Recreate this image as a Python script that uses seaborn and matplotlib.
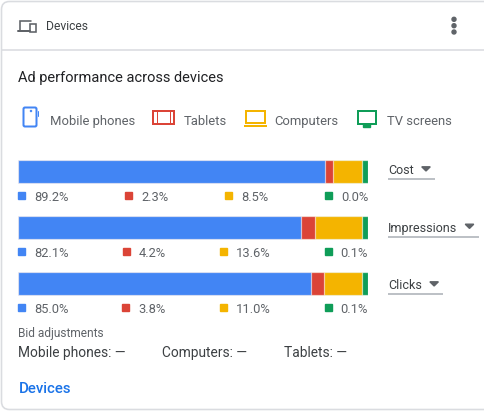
import numpy as np
import pandas as pd
import matplotlib
matplotlib.use("Agg")
import matplotlib.pyplot as plt
import matplotlib.patches as mpatches
import seaborn as sns

devices = ["Mobile phones", "Tablets", "Computers", "TV screens"]
device_colors = ["#4285f4", "#db4437", "#f4b400", "#0f9d58"]
metrics = ["Cost", "Impressions", "Clicks"]
mobile_pct = [89.2, 82.1, 85.0]
tablet_pct = [2.3, 4.2, 3.8]
computer_pct = [8.5, 13.6, 11.0]
tv_pct = [0.0, 0.1, 0.1]
bid_labels = ["Mobile phones: \u2014", "Computers: \u2014", "Tablets: \u2014"]

W, H = 484, 412
sns.set_theme(style="white")
plt.rcParams["font.family"] = ["Roboto", "DejaVu Sans"]

fig = plt.figure(figsize=(W / 100, H / 100), dpi=100)
fig.patch.set_facecolor("white")
renderer = fig.canvas.get_renderer()


def px(v):
    # pixels -> points
    return v * 0.72


def text_w(s, size, weight="normal"):
    t = fig.text(0, 0, s, fontsize=size, fontweight=weight)
    w = t.get_window_extent(renderer).width
    t.remove()
    return w


# ---- stacked bars (seaborn) ----
shares = np.array([mobile_pct, tablet_pct, computer_pct, tv_pct], dtype=float)
# tiny segments still get a visible sliver, like the original widget
shown = np.maximum(shares, 1.8)
shown = shown / shown.sum(axis=0) * 100
cum = np.cumsum(shown, axis=0)

bar_left, bar_right = 18, 368
bar_top_area, bar_bot_area = 143.5, 311.5
ax_bar = fig.add_axes([bar_left / W, 1 - bar_bot_area / H,
                       (bar_right - bar_left) / W, (bar_bot_area - bar_top_area) / H])
for i in reversed(range(len(devices))):
    df = pd.DataFrame({"metric": metrics, "value": cum[i]})
    sns.barplot(data=df, x="value", y="metric", color=device_colors[i], saturation=1,
                width=0.41, errorbar=None, ax=ax_bar,
                edgecolor=(1, 1, 1, 0.6), linewidth=px(1.2))
ax_bar.set_xlim(0, 100)
ax_bar.set_ylim(2.5, -0.5)
ax_bar.axis("off")
ax_bar.patch.set_alpha(0)

# ---- overlay in pixel coordinates ----
ax = fig.add_axes([0, 0, 1, 1])
ax.set_xlim(0, W)
ax.set_ylim(H, 0)
ax.axis("off")
ax.patch.set_alpha(0)

grey_line = "#dadce0"
dark = "#3c4043"
mid = "#5f6368"

# card frame + header divider
ax.add_patch(mpatches.FancyBboxPatch((1.5, 1.5), 520, 408, boxstyle="round,pad=0,rounding_size=8",
                                     fill=False, edgecolor=grey_line, linewidth=px(1.6)))
ax.plot([2, W], [50, 50], color=grey_line, lw=px(1.6), solid_capstyle="butt")

# header icon (laptop + phone)
ax.plot([20, 20, 31], [31, 21, 21], color=mid, lw=px(1.6), solid_joinstyle="miter")
ax.plot([18, 29.5], [31.2, 31.2], color=mid, lw=px(2))
ax.add_patch(mpatches.Rectangle((30, 24), 5.5, 7.5, fill=False, edgecolor=mid, lw=px(1.6)))
ax.text(46, 30, "Devices", fontsize=8.7, color=dark, va="baseline")

# kebab menu
for yy in [19.3, 25.7, 32]:
    ax.add_patch(mpatches.Circle((454, yy), 2, color=mid))

ax.text(18, 82, "Ad performance across devices", fontsize=10.5, color="#202124", va="baseline")

# legend with icons
def draw_icon(kind, x0, color):
    lw = px(2)
    if kind == 0:
        ax.add_patch(mpatches.FancyBboxPatch((x0 + 5.5, 107.5), 13, 19,
                                             boxstyle="round,pad=0,rounding_size=1.5",
                                             fill=False, edgecolor=color, lw=lw))
        ax.add_patch(mpatches.Rectangle((x0 + 11.5, 109.5), 1.5, 1.5, color=color))
        ax.plot([x0 + 19.5, x0 + 19.5], [111, 116], color=color, lw=px(1))
    elif kind == 1:
        ax.add_patch(mpatches.Rectangle((x0 + 2, 110.5), 21, 13.5, fill=False, edgecolor=color, lw=lw))
        ax.plot([x0 + 6, x0 + 6], [110.5, 124], color=color, lw=px(1))
        ax.plot([x0 + 19, x0 + 19], [110.5, 124], color=color, lw=px(1))
    elif kind == 2:
        ax.add_patch(mpatches.Rectangle((x0 + 3, 110.5), 19, 12, fill=False, edgecolor=color, lw=lw))
        ax.plot([x0 + 1, x0 + 24], [126, 126], color=color, lw=lw, solid_capstyle="butt")
    else:
        ax.add_patch(mpatches.Rectangle((x0 + 3, 110.5), 18, 13, fill=False, edgecolor=color, lw=lw))
        ax.add_patch(mpatches.Rectangle((x0 + 8.5, 123.5), 7, 3.5, color=color))


legend_size = 9.4
x = 18
for k, (name, col) in enumerate(zip(devices, device_colors)):
    draw_icon(k, x, col)
    ax.text(x + 32, 125, name, fontsize=legend_size, color=mid, va="baseline")
    x += 32 + text_w(name, legend_size) + 16

# percentage rows under each bar, spread edge to edge
pct_size = 9.3
row_base = [201, 257, 313]
for r in range(len(metrics)):
    labels = [f"{shares[d, r]:.1f}%" for d in range(len(devices))]
    widths = [16 + text_w(s, pct_size) for s in labels]
    gap = ((bar_right - bar_left) - sum(widths)) / (len(labels) - 1)
    x = bar_left
    for d, s in enumerate(labels):
        ax.add_patch(mpatches.Rectangle((x, row_base[r] - 9), 7, 7, color=device_colors[d]))
        ax.text(x + 16, row_base[r], s, fontsize=pct_size, color=mid, va="baseline")
        x += widths[d] + gap

# metric dropdowns
drop_size = 9.0
drop_base = [174.3, 231.7, 289.3]
for m, b in zip(metrics, drop_base):
    ax.text(388, b, m, fontsize=drop_size, color=dark, va="baseline")
    a0 = 388 + text_w(m, drop_size) + 8
    ax.add_patch(mpatches.Polygon([(a0, b - 7.5), (a0 + 8.5, b - 7.5), (a0 + 4.25, b - 3.3)],
                                  closed=True, color=mid))
    ax.plot([388, a0 + 13.5], [b + 5, b + 5], color="#bdc1c6", lw=px(2), solid_capstyle="butt")

# bid adjustments
ax.text(18, 337.5, "Bid adjustments", fontsize=8.6, color=mid, va="baseline")
x = 18
for s in bid_labels:
    ax.text(x, 356.7, s, fontsize=9.9, color=dark, va="baseline")
    x += text_w(s, 9.9) + 37

ax.text(19, 393.3, "Devices", fontsize=10.8, color="#1a73e8", fontweight="medium", va="baseline")

fig.savefig("out.png", dpi=100, facecolor="white")
